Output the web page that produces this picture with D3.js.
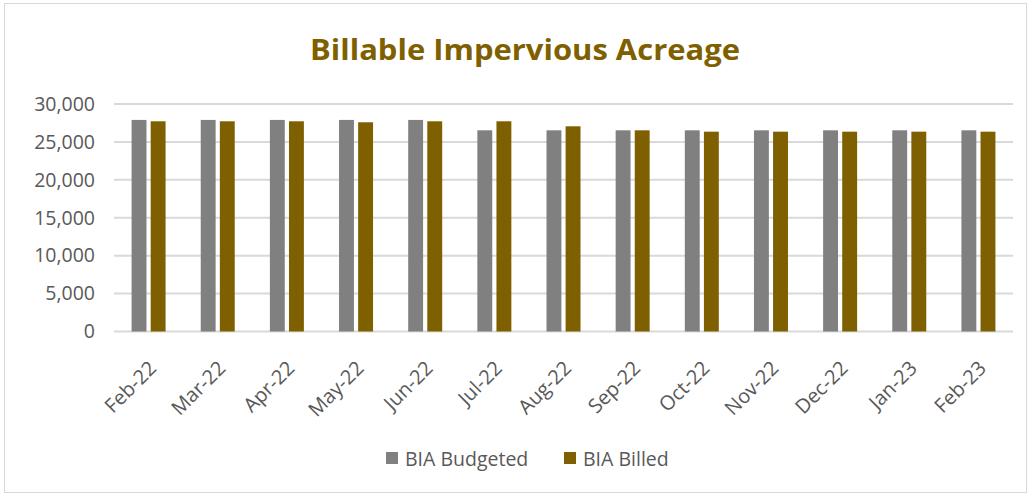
<!DOCTYPE html>
<html>
<head>
<meta charset="utf-8">
<script src="https://cdn.jsdelivr.net/npm/d3@7"></script>
<style>
  body { margin: 0; background: white; }
  text { font-family: "Open Sans", "Noto Sans", sans-serif; }
</style>
</head>
<body>
<div id="wrapper"></div>
<script>
// chart data
var months = ["Feb-22", "Mar-22", "Apr-22", "May-22", "Jun-22", "Jul-22", "Aug-22",
              "Sep-22", "Oct-22", "Nov-22", "Dec-22", "Jan-23", "Feb-23"];
var budgeted = [27900, 27900, 27900, 27900, 27900, 26530, 26530,
                26530, 26530, 26530, 26530, 26530, 26530];
var billed = [27720, 27720, 27720, 27590, 27720, 27720, 27060,
              26530, 26350, 26350, 26350, 26350, 26350];
var seriesNames = ["BIA Budgeted", "BIA Billed"];
var yTicks = [0, 5000, 10000, 15000, 20000, 25000, 30000];

function create(){
    const colors = ["#808080", "#7f6000"];
    const textColor = "#595959";

    const dimension = {
        width: 1030,
        height: 496,
        margin: { top: 104, right: 17, bottom: 164.5, left: 114 }
    };
    dimension.boundedWidth  = dimension.width  - dimension.margin.left - dimension.margin.right;
    dimension.boundedHeight = dimension.height - dimension.margin.top  - dimension.margin.bottom;

    const svg = d3.select("#wrapper")
        .append("svg")
        .attr("width", dimension.width)
        .attr("height", dimension.height);

    // outer chart border
    svg.append("rect")
        .attr("x", 4.5).attr("y", 3.5)
        .attr("width", 1022).attr("height", 489)
        .attr("fill", "white")
        .attr("stroke", "#d9d9d9")
        .attr("stroke-width", 1);

    // title
    svg.append("text")
        .attr("x", 525)
        .attr("y", 60)
        .attr("text-anchor", "middle")
        .attr("font-size", 28)
        .attr("font-weight", "bold")
        .attr("fill", "#7f6000")
        .attr("textLength", 430)
        .attr("lengthAdjust", "spacingAndGlyphs")
        .text("Billable Impervious Acreage");

    const g = svg.append("g")
        .attr("transform", "translate(" + dimension.margin.left + "," + dimension.margin.top + ")");

    var x = d3.scaleBand()
        .domain(months)
        .range([0, dimension.boundedWidth]);

    var x1 = d3.scaleBand()
        .domain(seriesNames)
        .range([x.bandwidth()/2 - 17, x.bandwidth()/2 + 17])
        .paddingInner(0.22);

    var y = d3.scaleLinear()
        .domain([0, 30000])
        .range([dimension.boundedHeight, 0]);

    // gridlines
    g.append("g")
        .selectAll("line")
        .data(yTicks)
        .enter()
        .append("line")
        .attr("x1", 0)
        .attr("x2", dimension.boundedWidth)
        .attr("y1", d => y(d))
        .attr("y2", d => y(d))
        .attr("stroke", "#d9d9d9")
        .attr("stroke-width", 2);

    // y axis labels
    var yAxis = g.append("g")
        .call(d3.axisLeft(y).tickValues(yTicks).tickFormat(d3.format(",")).tickSize(0).tickPadding(19));
    yAxis.select(".domain").remove();
    yAxis.selectAll("text")
        .attr("font-size", 19.5)
        .attr("fill", textColor)
        .style("font-family", "'Open Sans', sans-serif");

    // bars
    var rows = months.map((m, i) => ({ month: m, values: [budgeted[i], billed[i]] }));
    var groups = g.append("g")
        .selectAll("g")
        .data(rows)
        .enter()
        .append("g")
        .attr("transform", d => "translate(" + x(d.month) + ",0)");

    groups.selectAll("rect")
        .data(d => d.values.map((v, k) => ({ key: seriesNames[k], value: v, k: k })))
        .enter()
        .append("rect")
        .attr("x", d => x1(d.key))
        .attr("y", d => y(d.value))
        .attr("width", x1.bandwidth())
        .attr("height", d => y(0) - y(d.value))
        .attr("fill", d => colors[d.k]);

    // x axis labels
    var xAxis = g.append("g")
        .attr("transform", "translate(0," + dimension.boundedHeight + ")")
        .call(d3.axisBottom(x).tickSize(0).tickPadding(0));
    xAxis.select(".domain").remove();
    xAxis.selectAll("text")
        .attr("font-size", 20)
        .attr("fill", textColor)
        .style("font-family", "'Open Sans', sans-serif")
        .attr("text-anchor", "end")
        .attr("dy", null)
        .attr("y", 0)
        .attr("transform", "translate(9,38) rotate(-45)");

    // legend
    var legend = svg.append("g")
        .attr("transform", "translate(386,452)");
    var legendX = [0, 178];
    seriesNames.forEach((name, i) => {
        legend.append("rect")
            .attr("x", legendX[i])
            .attr("y", 0)
            .attr("width", 12)
            .attr("height", 12)
            .attr("fill", colors[i]);
        legend.append("text")
            .attr("x", legendX[i] + 19)
            .attr("y", 14)
            .attr("font-size", 19.5)
            .attr("fill", textColor)
            .text(name);
    });
}
create();
</script>
</body>
</html>
